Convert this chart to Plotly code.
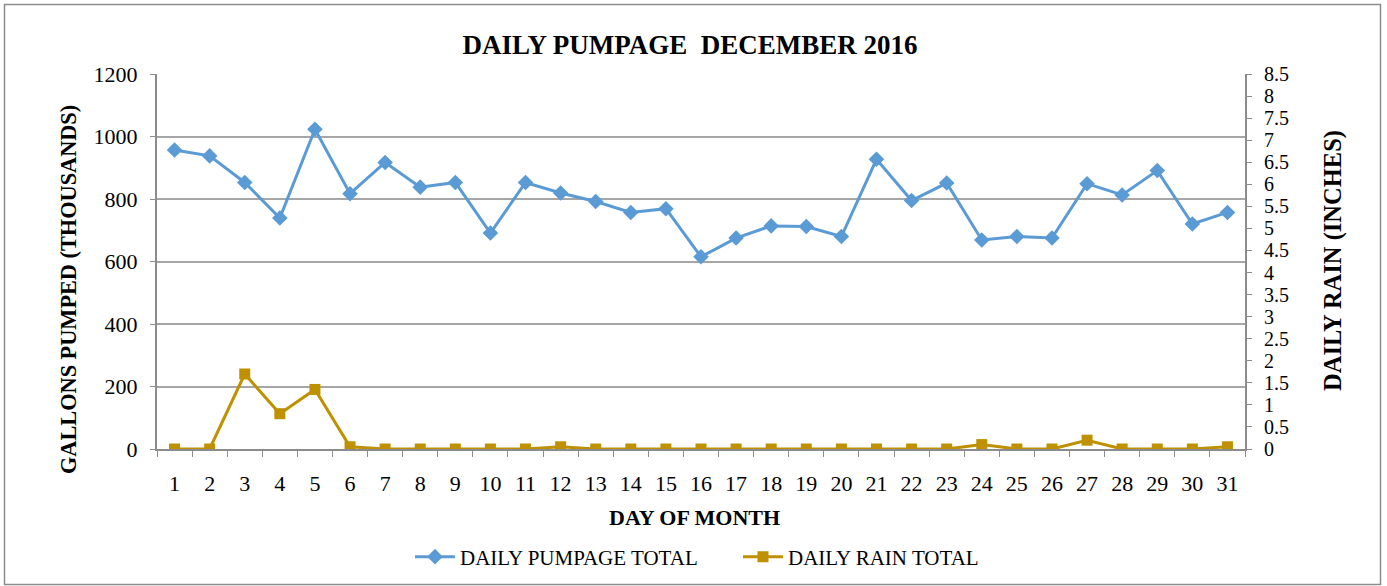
import plotly.graph_objects as go

days = [str(d) for d in range(1, 32)]
pumpage = [957, 938, 853, 739, 1023, 817, 917, 838, 853, 691,
           853, 819, 792, 757, 769, 615, 675, 714, 712, 680,
           927, 795, 851, 669, 680, 675, 849, 813, 891, 720, 757]
rain = [0, 0, 1.70, 0.80, 1.35, 0.05, 0, 0, 0, 0,
        0, 0.05, 0, 0, 0, 0, 0, 0, 0, 0,
        0, 0, 0, 0.10, 0, 0, 0.20, 0, 0, 0, 0.05]

FONT = "Liberation Serif"
GRAY = "#8c8c8c"

fig = go.Figure()
fig.add_trace(go.Scatter(
    x=days, y=pumpage, name="DAILY PUMPAGE TOTAL", mode="lines+markers",
    line=dict(color="#5B9BD5", width=3),
    marker=dict(symbol="diamond", size=12, color="#5B9BD5"),
    yaxis="y"))
fig.add_trace(go.Scatter(
    x=days, y=rain, name="DAILY RAIN TOTAL", mode="lines+markers",
    line=dict(color="#BF9000", width=3),
    marker=dict(symbol="square", size=11, color="#BF9000"),
    yaxis="y2"))

fig.update_layout(
    width=1387, height=586,
    margin=dict(l=157, r=142, t=74, b=137, autoexpand=False),
    paper_bgcolor="white", plot_bgcolor="white",
    font=dict(family=FONT, color="black"),
    showlegend=True,
    legend=dict(orientation="h", x=(410 - 157) / 1088, xanchor="left", y=-0.288, yanchor="middle",
                font=dict(size=21, family=FONT), itemwidth=40, traceorder="normal",
                entrywidth=273, entrywidthmode="pixels"),
    title=dict(text="<b>DAILY PUMPAGE\u00a0 DECEMBER 2016</b>", x=0.4975, xanchor="center",
               y=1 - 45 / 586, yanchor="middle", font=dict(size=27, family=FONT)),
    xaxis=dict(type="category", range=[-0.5, 30.5], tickson="boundaries", automargin=False,
               ticks="outside", ticklen=6, tickcolor=GRAY, showline=True, linecolor=GRAY,
               linewidth=2, showgrid=False, tickfont=dict(size=22, family=FONT),
               ticklabelstandoff=14),
    yaxis=dict(range=[0, 1200], dtick=200, showgrid=True, gridcolor="#a6a6a6", gridwidth=1.5,
               zeroline=False, showline=True, linecolor=GRAY, linewidth=2, automargin=False,
               ticks="outside", ticklen=5, tickcolor=GRAY,
               tickfont=dict(size=22, family=FONT), ticklabelstandoff=8),
    yaxis2=dict(range=[0, 8.5], dtick=0.5, overlaying="y", side="right", showgrid=False,
                zeroline=False, showline=True, linecolor=GRAY, linewidth=2, automargin=False,
                ticks="outside", ticklen=5, tickcolor=GRAY,
                tickfont=dict(size=20, family=FONT), ticklabelstandoff=8),
)

fig.add_annotation(text="<b>GALLONS PUMPED (THOUSANDS)</b>", xref="paper", yref="paper",
                   x=(68 - 157) / 1088, y=(449 - 290) / 375, textangle=-90,
                   showarrow=False, font=dict(size=22.3, family=FONT),
                   xanchor="center", yanchor="middle")
fig.add_annotation(text="<b>DAILY RAIN (INCHES)</b>", xref="paper", yref="paper",
                   x=(1333 - 157) / 1088, y=(449 - 261) / 375, textangle=-90,
                   showarrow=False, font=dict(size=24.5, family=FONT),
                   xanchor="center", yanchor="middle")
fig.add_annotation(text="<b>DAY OF MONTH</b>", xref="paper", yref="paper",
                   x=(694 - 157) / 1088, y=(449 - 517) / 375,
                   showarrow=False, font=dict(size=22, family=FONT),
                   xanchor="center", yanchor="middle")

fig.add_shape(type="rect", xref="paper", yref="paper",
              x0=(4.5 - 157) / 1088, x1=(1380.5 - 157) / 1088,
              y0=(449 - 584.5) / 375, y1=(449 - 4.5) / 375,
              line=dict(color="#8c8c8c", width=1.5), fillcolor="rgba(0,0,0,0)", layer="below")

fig.write_html("out.html", config={"displayModeBar": False},
               post_script="document.body.style.margin='0';document.body.style.overflow='hidden';")
